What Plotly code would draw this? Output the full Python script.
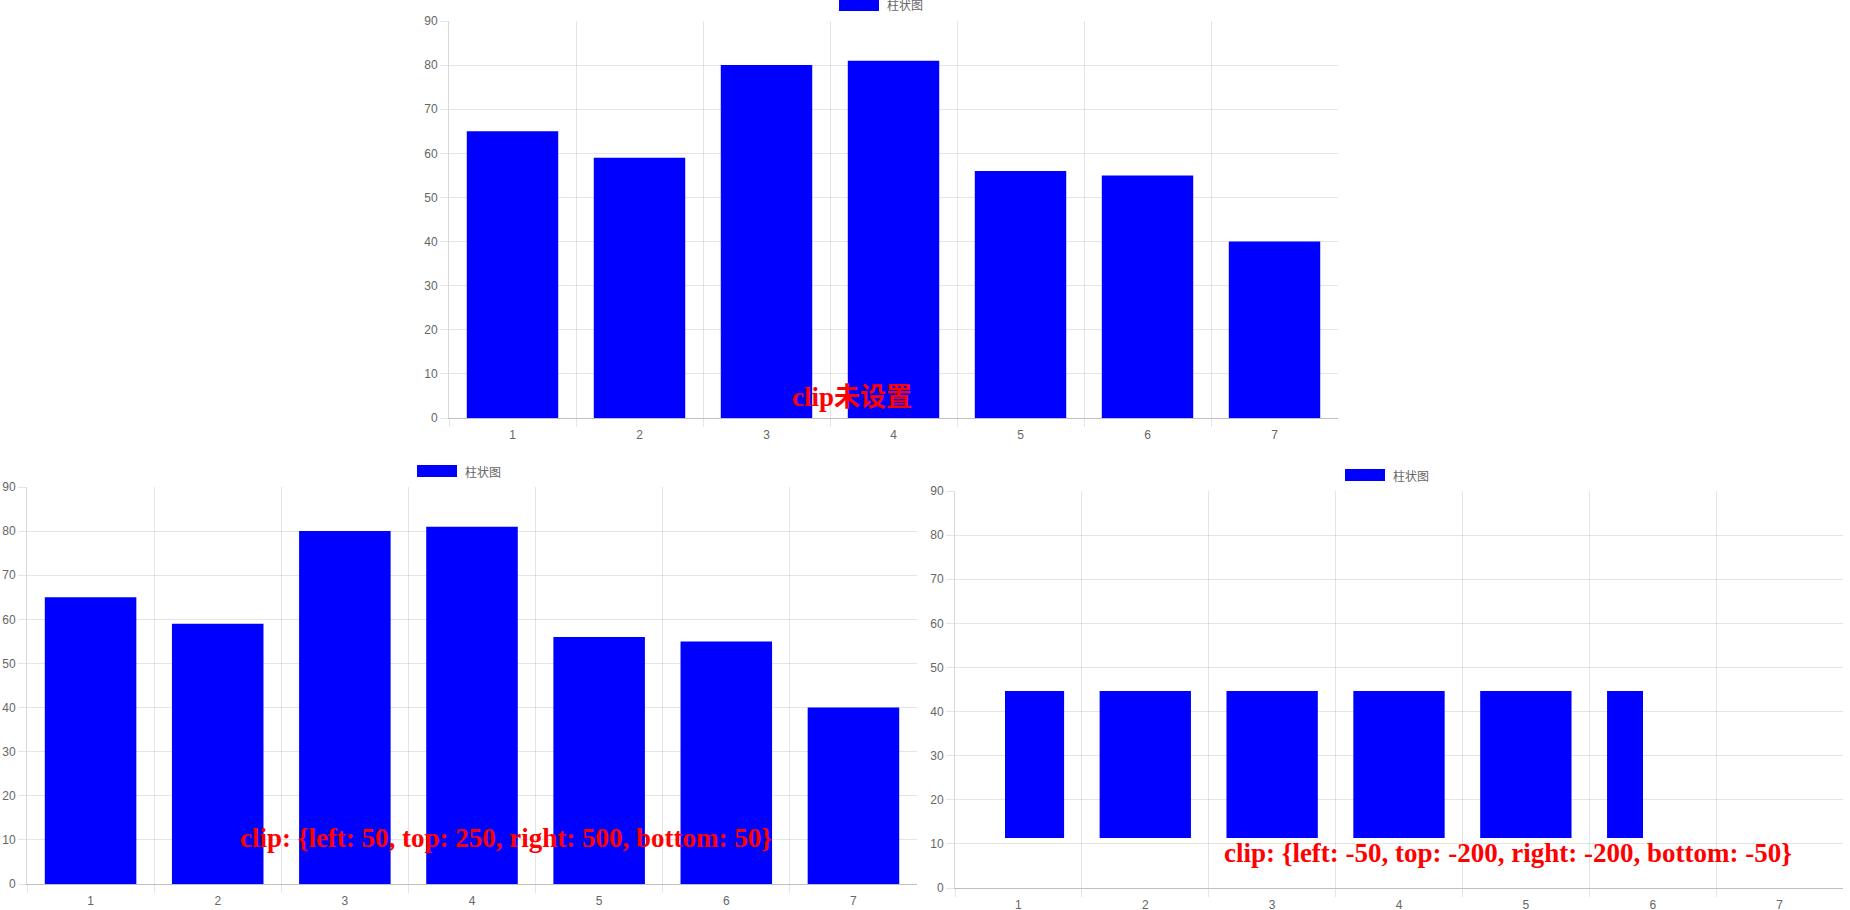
import plotly.graph_objects as go

# ---------------- data ----------------
categories = ["1", "2", "3", "4", "5", "6", "7"]
values = [65, 59, 80, 81, 56, 55, 40]
series_name = "柱状图"
titles = ["clip<span style='font-family:\"Noto Sans CJK SC\";font-size:26px'>未设置</span>",
          "clip: {left: 50, top: 250, right: 500, bottom: 50}",
          "clip: {left: -50, top: -200, right: -200, bottom: -50}"]
y_max = 90
y_step = 10

# ---------------- layout helpers ----------------
W, H = 1850, 910
BLUE = "#0000ff"
GRID = "rgba(0,0,0,0.1)"
TICKFONT = dict(family="Liberation Sans, Arial, sans-serif", size=12, color="#666666")


def dx(a, b):
    return [a / W, b / W]


def dy(top, bottom):
    return [1 - bottom / H, 1 - top / H]


# plot areas in pixels: (left, top, right, bottom)
areas = [(449, 21, 1338, 418), (27, 487, 917, 884), (955, 491, 1843, 888)]
# clip of the third chart (Chart.js-style pixel offsets, negative shrinks)
clip3 = dict(left=-50, top=-200, right=-200, bottom=-50)

fig = go.Figure()

for i, (l, t, r, b) in enumerate(areas):
    n = "" if i == 0 else str(i + 1)
    xa = "x" + n
    ya = "y" + n
    fig.update_layout(**{
        "xaxis" + n: dict(domain=dx(l, r), anchor=ya, type="category",
                          categoryorder="array", categoryarray=categories,
                          range=[-0.5, len(categories) - 0.5 - 1e-4],
                          showgrid=True, gridcolor=GRID, gridwidth=1,
                          tickson="boundaries", ticks="outside", ticklen=8,
                          tickcolor=GRID, showline=True, linecolor="rgba(0,0,0,0.25)",
                          linewidth=1, tickfont=TICKFONT, fixedrange=True,
                          zeroline=False, automargin=False, ticklabelstandoff=6),
        "yaxis" + n: dict(domain=dy(t, b), anchor=xa, range=[0, y_max],
                          dtick=y_step, tick0=0, showgrid=True, gridcolor=GRID,
                          gridwidth=1, ticks="outside", ticklen=8, tickcolor=GRID,
                          showline=True, linecolor="rgba(0,0,0,0.15)", linewidth=1,
                          zeroline=False, tickfont=TICKFONT, fixedrange=True,
                          automargin=False),
    })
    if i < 2:
        fig.add_trace(go.Bar(x=categories, y=values, name=series_name,
                             marker=dict(color=BLUE, line=dict(width=0)),
                             xaxis=xa, yaxis=ya, showlegend=False))
    else:
        # register categories on the base axes without drawing
        fig.add_trace(go.Scatter(x=categories, y=[None] * len(categories),
                                 mode="markers", xaxis=xa, yaxis=ya,
                                 showlegend=False, hoverinfo="skip"))
        # clipped overlay subplot
        cl = l - clip3["left"]
        cr = r + clip3["right"]
        ct = t - clip3["top"]
        cb = b + clip3["bottom"]
        ncat = len(categories)
        pxw = (r - l) / ncat
        pyh = (b - t) / y_max
        xr = [-0.5 + (cl - l) / pxw, ncat - 0.5 - (r - cr) / pxw]
        yr = [(b - cb) / pyh, y_max - (ct - t) / pyh]
        fig.update_layout(
            xaxis4=dict(domain=dx(cl, cr), anchor="y4", type="category",
                        categoryorder="array", categoryarray=categories,
                        range=xr, visible=False, showgrid=False, fixedrange=True,
                        automargin=False),
            yaxis4=dict(domain=dy(ct, cb), anchor="x4", range=yr,
                        visible=False, showgrid=False, fixedrange=True,
                        automargin=False),
        )
        fig.add_trace(go.Bar(x=categories, y=values, name=series_name,
                             marker=dict(color=BLUE, line=dict(width=0)),
                             xaxis="x4", yaxis="y4", showlegend=False))

fig.update_layout(bargap=0.28)

# legends (swatch + label) and red captions
legend_pos = [(839, -1, 885), (417, 465, 463), (1345, 469, 1391)]
caption_pos = [(790, 394), (238, 838), (1222, 853)]

shapes = []
annotations = []
for (lx, ly, tx), (cx, cy), txt in zip(legend_pos, caption_pos, titles):
    shapes.append(dict(type="rect", xref="paper", yref="paper",
                       x0=lx / W, x1=(lx + 40) / W,
                       y0=1 - (ly + 12) / H, y1=1 - ly / H,
                       fillcolor=BLUE, line=dict(width=0), layer="above"))
    annotations.append(dict(text=series_name, xref="paper", yref="paper",
                            x=tx / W, y=1 - (ly + 6) / H, xanchor="left",
                            yanchor="middle", showarrow=False,
                            font=dict(family="Noto Sans CJK SC, sans-serif",
                                      size=12, color="#666666")))
    annotations.append(dict(text=txt, xref="paper", yref="paper",
                            x=cx / W, y=1 - cy / H, xanchor="left",
                            yanchor="middle", showarrow=False,
                            font=dict(family="Liberation Serif, serif",
                                      size=27, color="#ff0000", weight="bold")))

fig.update_layout(width=W, height=H, margin=dict(l=0, r=0, t=0, b=0),
                  paper_bgcolor="white", plot_bgcolor="rgba(0,0,0,0)",
                  shapes=shapes, annotations=annotations, showlegend=False)

fig.write_html("out.html", config={"displayModeBar": False})
